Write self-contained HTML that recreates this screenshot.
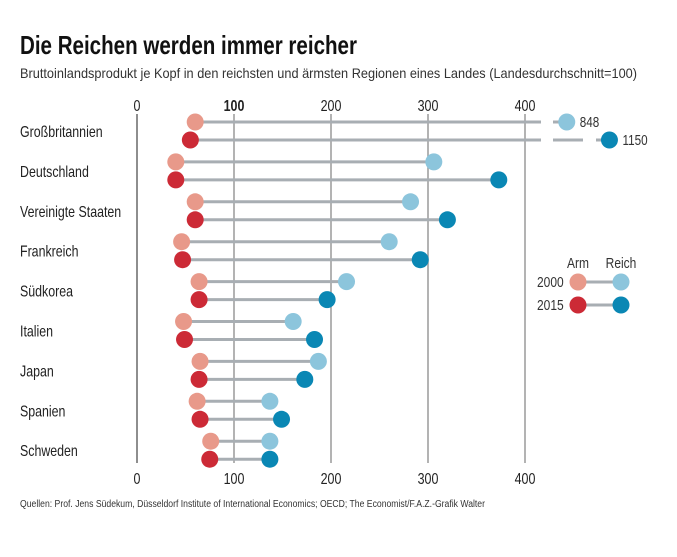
<!DOCTYPE html>
<html><head><meta charset="utf-8"><style>
body{margin:0;background:#fff;width:677px;height:552px;overflow:hidden;font-family:"Liberation Sans",sans-serif;color:#222}
svg text{font-family:"Liberation Sans",sans-serif}
</style></head><body>
<svg width="677" height="552">
<text x="20" y="54" font-size="26" font-weight="bold" fill="#111" textLength="337" lengthAdjust="spacingAndGlyphs">Die Reichen werden immer reicher</text>
<text x="20" y="78" font-size="14" fill="#333" textLength="617" lengthAdjust="spacingAndGlyphs">Bruttoinlandsprodukt je Kopf in den reichsten und ärmsten Regionen eines Landes (Landesdurchschnitt=100)</text>
<g id="grid"></g><g id="rows"></g>
<g>
<text transform="translate(578,268) scale(0.8,1)" font-size="15" text-anchor="middle" fill="#333">Arm</text>
<text transform="translate(621,268) scale(0.8,1)" font-size="15" text-anchor="middle" fill="#333">Reich</text>
<text transform="translate(537,287) scale(0.8,1)" font-size="15" fill="#333">2000</text>
<line x1="578" y1="282" x2="621" y2="282" stroke="#a8aeb3" stroke-width="3"/>
<circle cx="578" cy="282" r="8.5" fill="#e8998a"/><circle cx="621" cy="282" r="8.5" fill="#8cc5dc"/>
<text transform="translate(537,310) scale(0.8,1)" font-size="15" fill="#333">2015</text>
<line x1="578" y1="305" x2="621" y2="305" stroke="#a8aeb3" stroke-width="3"/>
<circle cx="578" cy="305" r="8.5" fill="#cc2a36"/><circle cx="621" cy="305" r="8.5" fill="#0a87b4"/>
</g>
<text x="20" y="507" font-size="10" fill="#333" textLength="465" lengthAdjust="spacingAndGlyphs">Quellen: Prof. Jens Südekum, Düsseldorf Institute of International Economics; OECD; The Economist/F.A.Z.-Grafik Walter</text>
</svg>
<script>
const countries=["Großbritannien","Deutschland","Vereinigte Staaten","Frankreich","Südkorea","Italien","Japan","Spanien","Schweden"];
const arm2000=[60,40,60,46,64,48,65,62,76];
const reich2000=[848,306,282,260,216,161,187,137,137];
const arm2015=[55,40,60,47,64,49,64,65,75];
const reich2015=[1150,373,320,292,196,183,173,149,137];
const ticks=[0,100,200,300,400];
const NS="http://www.w3.org/2000/svg";
function xs(v){const u=v>430?(319.5+0.1457*v):v;return 137+u*0.97;}
function rowY(i){return 122+i*39.9;}
function mk(t,a,p){const e=document.createElementNS(NS,t);for(const k in a)e.setAttribute(k,a[k]);p.appendChild(e);return e;}
const g=document.getElementById('grid'),r=document.getElementById('rows');
ticks.forEach(t=>{
 const x=xs(t);
 const l=mk('line',{x1:x,x2:x,y1:114,y2:463,stroke:t===0?'#444':'#9a9a9a','stroke-width':t===0?1.2:1.5},g);
 
 
 const a=mk('text',{transform:'translate('+x+',111) scale(0.78,1)','font-size':16,'text-anchor':'middle',fill:'#222','font-weight':t===100?'bold':'normal'},g);a.textContent=t;
 
 
 const b=mk('text',{transform:'translate('+x+',484) scale(0.78,1)','font-size':16,'text-anchor':'middle',fill:'#222'},g);b.textContent=t;
 
 
});
function pair(a,b,y,ca,cb,name){
 const xa=xs(a),xb=xs(b);
 if(b>430){
  mk('line',{x1:xa,x2:541,y1:y,y2:y,stroke:'#a8aeb3','stroke-width':3},r);
  if(b>1000){mk('line',{x1:553,x2:583,y1:y,y2:y,stroke:'#a8aeb3','stroke-width':3},r);mk('line',{x1:596,x2:xb,y1:y,y2:y,stroke:'#a8aeb3','stroke-width':3},r);}
  else mk('line',{x1:553,x2:xb,y1:y,y2:y,stroke:'#a8aeb3','stroke-width':3},r);
  const t=mk('text',{transform:'translate('+(xb+13)+','+(y+5)+') scale(0.78,1)','font-size':15,fill:'#333'},r);t.textContent=b;
  
  
 } else mk('line',{x1:xa,x2:xb,y1:y,y2:y,stroke:'#a8aeb3','stroke-width':3},r);
 const c1=mk('circle',{cx:xa,cy:y,r:8.5,fill:ca},r);
 
 
 const c2=mk('circle',{cx:xb,cy:y,r:8.5,fill:cb},r);
 
 
}
countries.forEach((c,i)=>{
 const y=rowY(i);
 const t=mk('text',{transform:'translate(20,'+(y+15)+') scale(0.8,1)','font-size':15.5,fill:'#222'},r);t.textContent=c;
 
 
 pair(arm2000[i],reich2000[i],y,'#e8998a','#8cc5dc','row-2000');
 pair(arm2015[i],reich2015[i],y+18,'#cc2a36','#0a87b4','row-2015');
});
</script>
</body></html>
